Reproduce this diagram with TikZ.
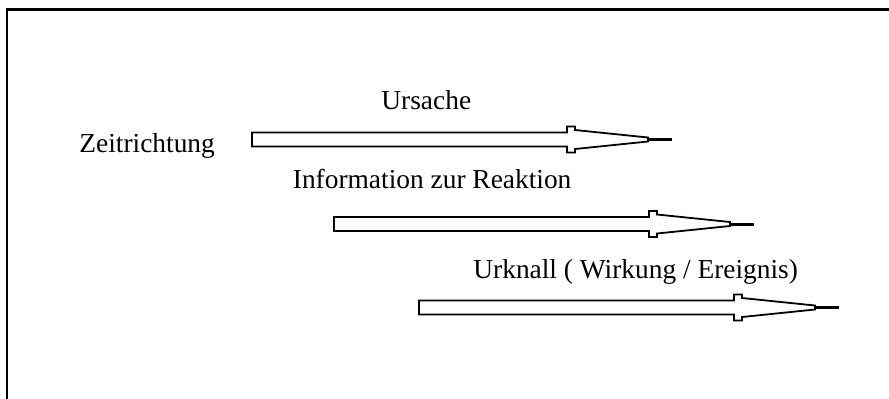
\documentclass[tikz,border=0pt]{standalone}
\usepackage{fontspec}
\setmainfont{Liberation Serif}
\begin{document}
\begin{tikzpicture}[x=0.5pt,y=-0.5pt,line join=miter,
	every node/.style={font=\fontsize{13.7}{16}\selectfont,inner sep=0pt,anchor=base west}]
	\useasboundingbox (0,0) rectangle (889,398);
	\draw[line width=1.3pt] (7,410) -- (7,9.5) -- (900,9.5);
	
	% Pfeile: Anfang x / Mitte y
	\foreach \x/\y in {252/139.5, 334/224, 419/307.5}
	{
	\draw[line width=0.9pt] (\x,\y-7) -- ++(315,0) -- ++(0,-6) -- ++(8,0) -- ++(0,3.5) -- ++(73,7.5)
		-- ++(0,4) -- ++(-73,7.5) -- ++(0,3.5) -- ++(-8,0) -- ++(0,-6) -- ++(-315,0) -- cycle;
	\draw[line width=1.5pt] (\x+396,\y) -- (\x+420,\y);
	}
	
	\node (zeit) at (79,152) {Zeitrichtung};
	\node (ursache) at (381,109) {Ursache};
	\node (info) at (292.5,188) {Information zur Reaktion};
	\node (urknall) at (473,278) {Urknall ( Wirkung / Ereignis)};
\end{tikzpicture}
\end{document}
